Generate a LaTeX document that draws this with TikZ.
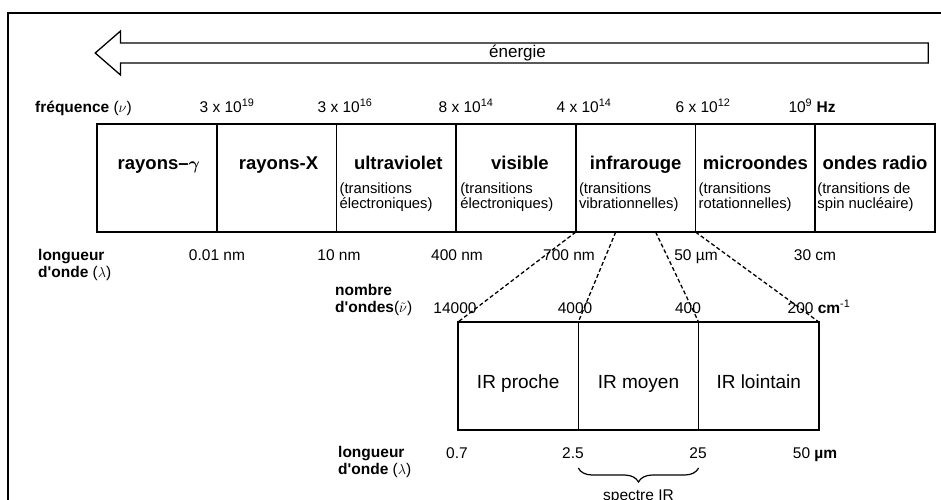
\documentclass[tikz,border=0pt]{standalone}
\usepackage{fontspec}
\setmainfont{Liberation Sans}
\usepackage{bm}
\usetikzlibrary{arrows.meta}
\usetikzlibrary{shapes}
\usetikzlibrary{calc}
\usetikzlibrary{positioning}
\usetikzlibrary{decorations.pathreplacing}

\begin{document}
\begin{tikzpicture}
    [   x = 1pt, y = -1pt
    ,   cell/.style = {draw, line width = 1.6pt, anchor = north west, inner sep = 0pt,
                       outer sep = 0pt, minimum width = 119.7pt, minimum height = 108pt}
    ,   irbox/.style = {cell, minimum width = 120.3pt, text height = 24pt, text depth = 0pt,
                        font = \fontsize{19}{21}\selectfont}
    ,   band/.style = {anchor = base, inner sep = 0pt, font = \bfseries\fontsize{18.5}{20}\selectfont}
    ,   trans/.style = {anchor = north west, inner sep = 0pt, align = left,
                        font = \fontsize{14.8}{15}\selectfont}
    ,   val/.style = {anchor = base, inner sep = 0pt, font = \fontsize{15.5}{17}\selectfont}
    ,   lab/.style = {anchor = north west, inner sep = 0pt, align = left,
                      font = \bfseries\fontsize{15.5}{17.5}\selectfont}
    ,   link/.style = {line width = 1.3pt, dash pattern = on 4pt off 2.5pt}
    ]
    \useasboundingbox (0,0) rectangle (941,499);
    \draw[line width = 1.8pt] (8,520) -- (8,13) -- (960,13);

    \node[draw, single arrow, shape border rotate = 180, line width = 1.3pt,
          minimum height = 833pt, minimum width = 44pt, inner sep = 1pt,
          single arrow head extend = 11.5pt, single arrow tip angle = 82,
          font = \fontsize{17}{19}\selectfont]
        (energy) at (517.5,53) {énergie};

    \node[lab] (freq) at (35,101) {fréquence {\mdseries($\nu$)}};
    \node[val] (f1) at (227,112) {3 x 10\textsuperscript{19}};
    \node[val] (f2) at (345,112) {3 x 10\textsuperscript{16}};
    \node[val] (f3) at (466,112) {8 x 10\textsuperscript{14}};
    \node[val] (f4) at (584,112) {4 x 10\textsuperscript{14}};
    \node[val] (f5) at (703,112) {6 x 10\textsuperscript{12}};
    \node[val] (f6) at (812,112) {10\textsuperscript{9} \textbf{Hz}};

    \node[cell] (gamma) at (97,124) {};
    \node[cell] (xray) at (gamma.north east) {};
    \node[cell] (uv) at (xray.north east) {};
    \node[cell] (vis) at (uv.north east) {};
    \node[cell] (ir) at (vis.north east) {};
    \node[cell] (micro) at (ir.north east) {};
    \node[cell] (radio) at (micro.north east) {};

    \node[band] (gammaname) at ($(gamma.north)+(2,45)$) {rayons--$\bm{\gamma}$};
    \node[band] (xrayname) at ($(xray.north)+(2,45)$) {rayons-X};
    \node[band] (uvname) at ($(uv.north)+(2,45)$) {ultraviolet};
    \node[band] (visname) at ($(vis.north)+(4,45)$) {visible};
    \node[band] (irname) at ($(ir.north)+(0,45)$) {infrarouge};
    \node[band] (microname) at ($(micro.north)+(0,45)$) {microondes};
    \node[band] (radioname) at ($(radio.north)+(0,45)$) {ondes radio};

    \node[trans] (uvtrans) at ($(uv.north west)+(3,59)$) {(transitions\\électroniques)};
    \node[trans] (vistrans) at ($(vis.north west)+(4,59)$) {(transitions\\électroniques)};
    \node[trans] (irtrans) at ($(ir.north west)+(3,59)$) {(transitions\\vibrationnelles)};
    \node[trans] (microtrans) at ($(micro.north west)+(3,59)$) {(transitions\\rotationnelles)};
    \node[trans] (radiotrans) at ($(radio.north west)+(2,59)$) {(transitions de\\spin nucléaire)};

    \node[lab] (wave) at (38,249) {longueur\\d\textquotesingle onde {\mdseries($\lambda$)}};
    \node[val] (w1) at (217,260) {0.01 nm};
    \node[val] (w2) at (339,260) {10 nm};
    \node[val] (w3) at (457,260) {400 nm};
    \node[val] (w4) at (569,260) {700 nm};
    \node[val] (w5) at (696,260) {50 µm};
    \node[val] (w6) at (815,260) {30 cm};

    \node[lab] (num) at (335,284) {nombre\\d\textquotesingle ondes{\mdseries($\tilde{\nu}$)}};
    \node[val] (k1) at (455,313) {14000};
    \node[val] (k2) at (575,313) {4000};
    \node[val] (k3) at (688,313) {400};
    \node[val] (k4) at (819,313) {200 \textbf{cm}\textsuperscript{-1}};

    \node[irbox] (near) at (458,322) {IR proche};
    \node[irbox] (mid) at (near.north east) {IR moyen};
    \node[irbox] (far) at (mid.north east) {IR lointain};

    \coordinate (m1) at ($(ir.south west)!1/3!(ir.south east)$);
    \coordinate (m2) at ($(ir.south west)!2/3!(ir.south east)$);
    \draw[link] (ir.south west) -- (near.north west);
    \draw[link] (m1) -- (mid.north west);
    \draw[link] (m2) -- (mid.north east);
    \draw[link] (ir.south east) -- (far.north east);

    \node[lab] (wave2) at (338,446) {longueur\\d\textquotesingle onde {\mdseries($\lambda$)}};
    \node[val] (r1) at (457,458) {0.7};
    \node[val] (r2) at (573,458) {2.5};
    \node[val] (r3) at (698,458) {25};
    \node[val] (r4) at (815,458) {50 \textbf{µm}};

    \coordinate (b1) at ($(mid.south west)+(0,38)$);
    \coordinate (b2) at ($(mid.south east)+(0,38)$);
    \draw[line width = 1.2pt, decorate, decoration = {brace, mirror, amplitude = 14pt}]
        (b1) -- (b2);
    \node[val, anchor = north] (spec) at ($(mid.south)+(0,60)$) {spectre IR};
\end{tikzpicture}
\end{document}
